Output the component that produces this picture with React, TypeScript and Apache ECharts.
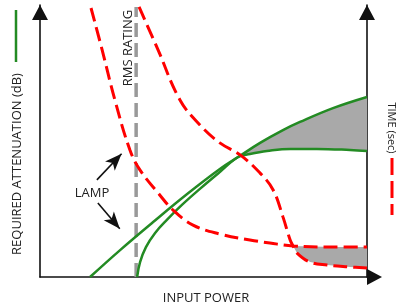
import { useEffect, useRef } from "react";
import * as echarts from "echarts";

// x: input power (0-100, arbitrary), y: 0-100 (arbitrary) on both axes
const attenuationLampA: [number, number][] = [
  [15.3, 0], [24.5, 9.9], [34.6, 20.2], [45.0, 30.5], [55.0, 39.7], [60.6, 44.1],
  [67.3, 49.3], [74.3, 54.0], [79.5, 57.0], [89.6, 62.1], [100, 66.2],
];
const attenuationLampB: [number, number][] = [
  [29.7, 0], [30.6, 5.5], [32.4, 11.0], [35.2, 16.2], [38.8, 21.0], [43.4, 26.5],
  [48.9, 32.4], [55.0, 38.6], [60.6, 44.1], [64.2, 45.2], [69.4, 46.3], [76.5, 47.1],
  [84.7, 47.1], [94.8, 46.7], [100, 46.3],
];
const timeCurve1: [number, number][] = [
  [15.6, 98.9], [19.0, 83.5], [22.9, 65.1], [27.5, 46.7], [30.6, 39.3], [36.1, 30.9],
  [40.7, 24.6], [46.8, 19.1], [55.0, 15.8], [64.2, 13.6], [70.3, 12.5], [77.4, 11.4],
  [89.6, 11.0], [100, 11.0],
];
const timeCurve2: [number, number][] = [
  [30.3, 99.3], [36.1, 83.5], [42.8, 65.1], [48.9, 55.9], [55.0, 49.3], [61.2, 44.9],
  [67.3, 38.2], [71.3, 32.0], [74.3, 22.1], [76.5, 13.6], [77.4, 11.4], [78.6, 8.8],
  [82.6, 5.5], [87.8, 4.4], [94.8, 3.7], [100, 3.3],
];
const rmsRating: [number, number][] = [[29.4, 0], [29.4, 99.3]];
const greenFillFrom = 60.6;
const redFillFrom = 77.4;
const lampArrows: [number, number][][] = [
  [[17.4, 35.7], [24.95, 45.3]],
  [[17.7, 27.2], [24.4, 17.7]],
];

const GREEN = "#238b23";
const RED = "#ff0000";
const FILL = "#a9a9a9";
const FONT = "'Open Sans', sans-serif";
const TXT = "#222";

function between(upper: [number, number][], lower: [number, number][], from: number) {
  const u = upper.filter((p) => p[0] >= from);
  const l = lower.filter((p) => p[0] >= from).slice().reverse();
  return u.concat(l);
}

export default function App() {
  const ref = useRef<HTMLDivElement>(null);
  useEffect(() => {
    const chart = echarts.init(ref.current!, null, { renderer: "svg" });
    const greenPoly = between(attenuationLampA, attenuationLampB, greenFillFrom);
    const redPoly = between(timeCurve1, timeCurve2, redFillFrom);
    const axisLine = (offset: number[]) => ({
      show: true,
      onZero: false,
      symbol: ["none", "triangle"],
      symbolSize: [16, 15],
      symbolOffset: offset,
      lineStyle: { color: "#111", width: 1.6 },
    });
    const hidden = {
      axisTick: { show: false },
      axisLabel: { show: false },
      splitLine: { show: false },
    };
    chart.setOption({
      animation: false,
      grid: { left: 40, right: 32, top: 5, bottom: 30 },
      xAxis: { type: "value", min: 0, max: 100, axisLine: axisLine([0, 7.5]), ...hidden },
      yAxis: [
        { type: "value", min: 0, max: 100, position: "left", axisLine: axisLine([0, -7.5]), ...hidden },
        { type: "value", min: 0, max: 100, position: "right", axisLine: axisLine([0, -7.5]), ...hidden },
      ],
      series: [
        {
          type: "custom",
          coordinateSystem: "cartesian2d",
          yAxisIndex: 0,
          z: 1,
          silent: true,
          data: [[0, 0]],
          renderItem: (_p: any, api: any) => ({
            type: "polygon",
            shape: { points: greenPoly.map((p) => api.coord(p)) },
            style: { fill: FILL },
          }),
        },
        {
          type: "custom",
          coordinateSystem: "cartesian2d",
          yAxisIndex: 1,
          z: 1,
          silent: true,
          data: [[0, 0]],
          renderItem: (_p: any, api: any) => ({
            type: "polygon",
            shape: { points: redPoly.map((p) => api.coord(p)) },
            style: { fill: FILL },
          }),
        },
        {
          type: "line",
          yAxisIndex: 0,
          data: rmsRating,
          symbol: "none",
          z: 2,
          lineStyle: { color: "#999", width: 3.5, type: [14, 6] },
        },
        {
          type: "line",
          yAxisIndex: 0,
          data: attenuationLampA,
          smooth: 0.4,
          symbol: "none",
          z: 3,
          lineStyle: { color: GREEN, width: 2.5 },
          markLine: {
            silent: true,
            symbol: ["none", "arrow"],
            symbolSize: [10, 17],
            label: { show: false },
            lineStyle: { color: "#111", width: 1.6, type: "solid" },
            data: lampArrows.map(([a, b]) => [{ coord: a }, { coord: b }]),
          },
        },
        {
          type: "line",
          yAxisIndex: 0,
          data: attenuationLampB,
          smooth: 0.4,
          symbol: "none",
          z: 3,
          lineStyle: { color: GREEN, width: 2.5 },
        },
        {
          type: "line",
          yAxisIndex: 1,
          data: timeCurve1,
          smooth: 0.4,
          symbol: "none",
          z: 3,
          lineStyle: { color: RED, width: 3, type: [14, 6] },
        },
        {
          type: "line",
          yAxisIndex: 1,
          data: timeCurve2,
          smooth: 0.4,
          symbol: "none",
          z: 3,
          lineStyle: { color: RED, width: 3, type: [14, 6] },
        },
      ],
      graphic: [
        {
          type: "text",
          x: 16,
          y: 164,
          rotation: Math.PI / 2,
          style: { text: "REQUIRED ATTENUATION (dB)", fontSize: 13, fontFamily: FONT, fill: TXT, align: "center", verticalAlign: "middle" },
        },
        { type: "line", shape: { x1: 16, y1: 10, x2: 16, y2: 62 }, style: { stroke: GREEN, lineWidth: 2.5 } },
        {
          type: "text",
          x: 392,
          y: 128,
          rotation: -Math.PI / 2,
          style: { text: "TIME (sec)", fontSize: 11, fontFamily: FONT, fill: TXT, align: "center", verticalAlign: "middle" },
        },
        { type: "line", shape: { x1: 392, y1: 158, x2: 392, y2: 215 }, style: { stroke: RED, lineWidth: 3, lineDash: [17, 6] } },
        {
          type: "text",
          x: 127,
          y: 48,
          rotation: Math.PI / 2,
          style: { text: "RMS RATING", fontSize: 13, fontFamily: FONT, fill: TXT, align: "center", verticalAlign: "middle" },
        },
        {
          type: "text",
          x: 92,
          y: 192,
          style: { text: "LAMP", fontSize: 13, fontFamily: FONT, fill: TXT, align: "center", verticalAlign: "middle" },
        },
        {
          type: "text",
          x: 206,
          y: 297,
          style: { text: "INPUT POWER", fontSize: 13, fontFamily: FONT, fill: TXT, align: "center", verticalAlign: "middle" },
        },
      ],
    });
    return () => chart.dispose();
  }, []);
  return <div ref={ref} style={{ position: "fixed", left: 0, top: 0, width: 399, height: 307 }} />;
}
